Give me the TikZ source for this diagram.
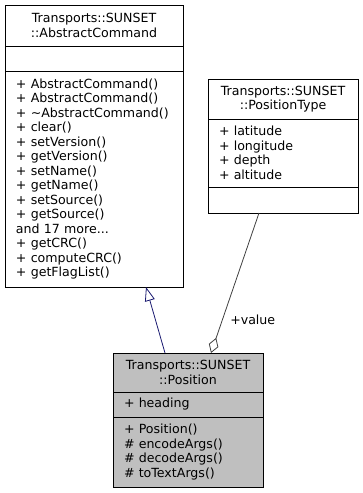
\documentclass[tikz,border=0pt]{standalone}
\usepackage{fontspec}
\setmainfont{DejaVu Sans}
\usepackage{xcolor}
\usetikzlibrary{positioning,arrows.meta}
\definecolor{inhblue}{HTML}{191970}
\definecolor{aggrgray}{HTML}{404040}
\definecolor{curgray}{HTML}{BFBFBF}

\begin{document}
\begin{tikzpicture}[
  x=1pt, y=-1pt, font=\fontsize{12.6}{14.5}\selectfont, node distance=0pt,
  classhead/.style={draw,line width=0.9pt,outer sep=0pt,align=center,inner sep=0pt,text width=#1},
  classpart/.style={draw,line width=0.9pt,outer sep=0pt,align=left,inner ysep=0pt,inner xsep=11pt,text width=#1},
  inherit/.style={draw=inhblue,line width=0.8pt,-{Triangle[open,length=14pt,width=10pt]}},
  aggr/.style={draw=aggrgray,line width=0.8pt,{Diamond[open,length=16pt,width=10pt]}-}
]
\useasboundingbox (0,0) rectangle (363,493);
% base class
\node[classhead=178pt,minimum height=41pt,anchor=north west] (absCmdTitle) at (5,5) {Transports::SUNSET\\::AbstractCommand};
\node[classpart=156pt,minimum height=25pt,below=of absCmdTitle] (absCmdAttr) {};
\node[classpart=156pt,minimum height=216pt,below=of absCmdAttr] (absCmdOps) {+ AbstractCommand()\\+ AbstractCommand()\\+ \textasciitilde AbstractCommand()\\+ clear()\\+ setVersion()\\+ getVersion()\\+ setName()\\+ getName()\\+ setSource()\\+ getSource()\\and 17 more...\\+ getCRC()\\+ computeCRC()\\+ getFlagList()};
% member type
\node[classhead=150pt,minimum height=40pt,anchor=north west] (posTypeTitle) at (208,79) {Transports::SUNSET\\::PositionType};
\node[classpart=128pt,minimum height=68pt,below=of posTypeTitle] (posTypeAttr) {+ latitude\\+ longitude\\+ depth\\+ altitude};
\node[classpart=128pt,minimum height=26pt,below=of posTypeAttr] (posTypeOps) {};
% this class
\node[classhead=150pt,minimum height=39pt,fill=curgray,anchor=north west] (positionTitle) at (113,353) {Transports::SUNSET\\::Position};
\node[classpart=128pt,minimum height=25pt,fill=curgray,below=of positionTitle] (positionAttr) {+ heading};
\node[classpart=128pt,minimum height=70pt,fill=curgray,below=of positionAttr] (positionOps) {+ Position()\\\# encodeArgs()\\\# decodeArgs()\\\# toTextArgs()};
\draw[inherit] ([xshift=52pt]positionTitle.north west) -- ([xshift=141pt]absCmdOps.south west);
\draw[aggr] ([xshift=98pt]positionTitle.north west) -- node[pos=0.24,right=4pt]{+value} ([xshift=51pt]posTypeOps.south west);
\end{tikzpicture}
\end{document}
